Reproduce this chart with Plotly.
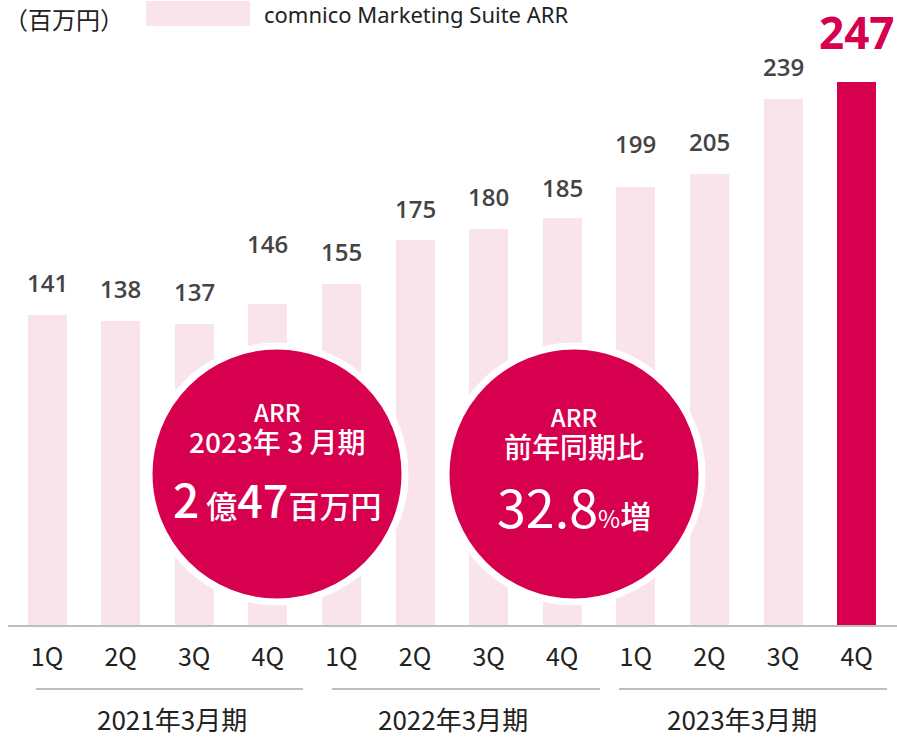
import plotly.graph_objects as go

# ARR (百万円) per quarter, fiscal years ending March
quarters = ["1Q", "2Q", "3Q", "4Q", "1Q", "2Q", "3Q", "4Q", "1Q", "2Q", "3Q", "4Q"]
arr_values = [141, 138, 137, 146, 155, 175, 180, 185, 199, 205, 239, 247]
fiscal_years = ["2021年3月期", "2022年3月期", "2023年3月期"]
series_name = "comnico Marketing Suite ARR"
unit_label = "（百万円）"

# label offsets above bar tops (px), as laid out in the original
label_gap_px = [32, 33, 32, 60, 33, 32, 33, 31, 44, 33, 33, 50]

PINK = "#FAE4EC"
RED = "#D6004F"
GRAY_TXT = "#444444"
JP = "Noto Sans CJK JP, Noto Sans, sans-serif"
NUM = "Open Sans, Noto Sans, sans-serif"

W, H = 897, 737
ML, MB = 8, 112
PLOT_H = H - MB
PX_PER_CAT = 73.6
PX_PER_UNIT = 2.2
x_lo = -(47 - ML) / PX_PER_CAT
x_hi = x_lo + (W - ML) / PX_PER_CAT


def px2x(px):
    return (px - 47) / PX_PER_CAT


def py2y(py):
    return (PLOT_H - py) / PX_PER_UNIT


def py2paper(py):
    return (PLOT_H - py) / PLOT_H


xs = list(range(len(arr_values)))
colors = [PINK] * (len(arr_values) - 1) + [RED]

fig = go.Figure()
fig.add_trace(go.Bar(
    x=xs, y=arr_values, width=0.53,
    marker=dict(color=colors, line=dict(width=0)),
    name=series_name, showlegend=False, hoverinfo="x+y",
))

# value labels
for i, v in enumerate(arr_values):
    last = i == len(arr_values) - 1
    fig.add_annotation(
        x=i, y=v, yshift=label_gap_px[i], text=str(v), showarrow=False,
        yanchor="middle",
        font=dict(family=NUM, size=44 if last else 24, weight=700 if last else 600,
                  color=RED if last else GRAY_TXT),
    )

# legend-ish header
fig.add_shape(type="rect", xref="x", yref="y",
              x0=px2x(146), x1=px2x(250), y0=py2y(26), y1=py2y(1),
              fillcolor=PINK, line=dict(width=0), layer="above")
fig.add_annotation(x=px2x(262), y=py2y(14), xref="x", yref="y", xanchor="left",
                   yanchor="middle", text=series_name, showarrow=False,
                   font=dict(family="Noto Sans, sans-serif", size=22, color="#222222"))
fig.add_annotation(x=0, y=py2paper(18), xref="paper", yref="paper",
                   xanchor="left", yanchor="middle", xshift=-6,
                   text=unit_label, showarrow=False,
                   font=dict(family=JP, size=24, color="#222222"))

# highlight circles
circles = [(px2x(277), py2y(474)), (px2x(574), py2y(474))]
for cx, cy in circles:
    fig.add_shape(type="circle", xref="x", yref="y", xsizemode="pixel", ysizemode="pixel",
                  xanchor=cx, yanchor=cy, x0=-128, x1=128, y0=-128, y1=128,
                  fillcolor=RED, line=dict(color="white", width=7), layer="above")

lx, ly = circles[0]
rx, ry = circles[1]
circle_text = [
    (lx, ly, 47, 'ARR<br><span style="font-size:28px">2023年 3 月期</span>', 24),
    (lx, ly, -24, '<span style="font-size:46px">2</span> 億'
                  '<span style="font-size:45px">47</span>百万円', 31),
    (rx, ry, 42, 'ARR<br><span style="font-size:28px">前年同期比</span>', 24),
    (rx, ry, -31, '<span style="font-size:52px;font-weight:400">32.8</span>'
                  '<span style="font-size:24px;font-weight:400">%</span>増', 31),
]
for cx, cy, dy, txt, sz in circle_text:
    fig.add_annotation(x=cx, y=cy, yshift=dy, text=txt, showarrow=False,
                       yanchor="middle",
                       font=dict(family=JP, size=sz, weight=500, color="white"))

# fiscal year grouping
group_spans_px = [(36, 303), (332, 600), (619, 887)]
group_label_px = [172, 453, 742]
for g, fy in enumerate(fiscal_years):
    a, b = group_spans_px[g]
    fig.add_shape(type="line", xref="x", yref="paper",
                  x0=px2x(a), x1=px2x(b), y0=py2paper(689), y1=py2paper(689),
                  line=dict(color="#BEBEBE", width=2))
    fig.add_annotation(x=px2x(group_label_px[g]), y=py2paper(718), xref="x", yref="paper",
                       text=fy, showarrow=False, yanchor="middle",
                       font=dict(family=JP, size=26, color="#222222"))

fig.update_layout(
    width=W, height=H,
    margin=dict(l=ML, r=0, t=0, b=MB),
    plot_bgcolor="white", paper_bgcolor="white",
    bargap=0,
    xaxis=dict(range=[x_lo, x_hi], tickvals=xs, ticktext=quarters,
               showgrid=False, zeroline=False, showline=True,
               linecolor="#BEBEBE", linewidth=2, ticks="",
               ticklabelstandoff=9,
               tickfont=dict(family=JP, size=25, color="#222222")),
    yaxis=dict(range=[0, PLOT_H / PX_PER_UNIT], visible=False, fixedrange=True),
)

fig.write_html("out.html", config={"displayModeBar": False},
               post_script="document.body.style.margin='0';")
